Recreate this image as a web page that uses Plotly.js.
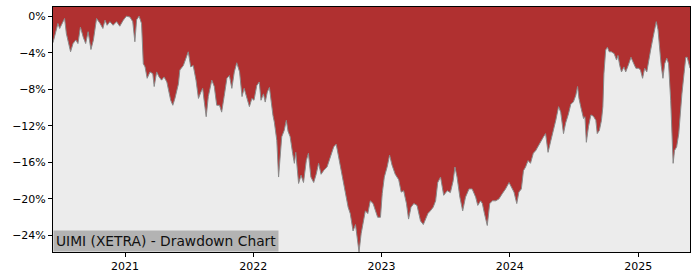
<!DOCTYPE html>
<html>
<head>
<meta charset="utf-8">
<script src="https://cdn.plot.ly/plotly-3.0.1.min.js"></script>
<style>
  html, body { margin: 0; padding: 0; background: #ffffff; }
  #chart { width: 700px; height: 280px; }
</style>
</head>
<body>
<div id="chart"></div>
<script>
// Drawdown readings (date, percent below previous peak)
const dates = [
  "2020-06-10","2020-06-18","2020-06-24","2020-06-29","2020-07-09","2020-07-13","2020-07-18","2020-07-23","2020-07-30","2020-08-06",
  "2020-08-14","2020-08-20","2020-08-27","2020-09-04","2020-09-11","2020-09-18","2020-09-26","2020-10-03","2020-10-12","2020-10-22",
  "2020-10-30","2020-11-05","2020-11-11","2020-11-19","2020-11-28","2020-12-08","2020-12-17","2020-12-27","2021-01-05","2021-01-15",
  "2021-01-23","2021-01-29","2021-02-03","2021-02-10","2021-02-17","2021-02-22","2021-02-27","2021-03-05","2021-03-13","2021-03-21",
  "2021-03-25","2021-04-01","2021-04-08","2021-04-15","2021-04-22","2021-04-30","2021-05-04","2021-05-11","2021-05-17","2021-05-23",
  "2021-06-02","2021-06-06","2021-06-16","2021-06-24","2021-06-30","2021-07-07","2021-07-14","2021-07-22","2021-07-29","2021-08-05",
  "2021-08-10","2021-08-14","2021-08-20","2021-08-26","2021-09-05","2021-09-12","2021-09-19","2021-09-27","2021-10-03","2021-10-10",
  "2021-10-18","2021-10-25","2021-11-01","2021-11-08","2021-11-15","2021-11-23","2021-11-30","2021-12-06","2021-12-14","2021-12-21",
  "2021-12-28","2022-01-03","2022-01-11","2022-01-18","2022-01-23","2022-01-30","2022-02-04","2022-02-10","2022-02-16","2022-02-21",
  "2022-02-26","2022-03-02","2022-03-09","2022-03-14","2022-03-19","2022-03-23","2022-03-30","2022-04-05","2022-04-10","2022-04-16",
  "2022-04-23","2022-04-28","2022-05-02","2022-05-10","2022-05-17","2022-05-24","2022-06-01","2022-06-07","2022-06-14","2022-06-22",
  "2022-06-29","2022-07-06","2022-07-13","2022-07-20","2022-07-30","2022-08-08","2022-08-18","2022-08-25","2022-09-01","2022-09-11",
  "2022-09-20","2022-09-28","2022-10-04","2022-10-12","2022-10-19","2022-10-23","2022-10-29","2022-11-04","2022-11-09","2022-11-16",
  "2022-11-23","2022-11-30","2022-12-08","2022-12-15","2022-12-21","2022-12-29","2023-01-03","2023-01-09","2023-01-17","2023-01-24",
  "2023-01-31","2023-02-09","2023-02-19","2023-02-26","2023-03-05","2023-03-13","2023-03-19","2023-03-26","2023-04-03","2023-04-12",
  "2023-04-22","2023-04-30","2023-05-06","2023-05-13","2023-05-20","2023-05-28","2023-06-04","2023-06-10","2023-06-18","2023-06-27",
  "2023-07-07","2023-07-16","2023-07-24","2023-07-29","2023-08-04","2023-08-12","2023-08-20","2023-08-28","2023-09-07","2023-09-16",
  "2023-09-26","2023-10-02","2023-10-10","2023-10-15","2023-10-21","2023-10-29","2023-11-05","2023-11-13","2023-11-22","2023-12-01",
  "2023-12-11","2023-12-20","2023-12-30","2024-01-05","2024-01-13","2024-01-21","2024-01-27","2024-02-03","2024-02-09","2024-02-15",
  "2024-02-22","2024-02-29","2024-03-08","2024-03-15","2024-03-21","2024-03-29","2024-04-06","2024-04-12","2024-04-19","2024-04-27",
  "2024-05-04","2024-05-11","2024-05-19","2024-05-25","2024-06-02","2024-06-08","2024-06-16","2024-06-23","2024-06-30","2024-07-07",
  "2024-07-12","2024-07-16","2024-07-21","2024-07-29","2024-08-02","2024-08-06","2024-08-12","2024-08-19","2024-08-26","2024-09-02",
  "2024-09-06","2024-09-12","2024-09-18","2024-09-22","2024-09-25","2024-09-30","2024-10-05","2024-10-10","2024-10-16","2024-10-24",
  "2024-10-31","2024-11-04","2024-11-09","2024-11-14","2024-11-21","2024-11-26","2024-12-03","2024-12-11","2024-12-19","2024-12-25",
  "2025-01-02","2025-01-07","2025-01-13","2025-01-19","2025-01-25","2025-01-30","2025-02-05","2025-02-12","2025-02-16","2025-02-21",
  "2025-02-26","2025-03-02","2025-03-07","2025-03-12","2025-03-17","2025-03-23","2025-03-28","2025-04-03","2025-04-07","2025-04-10",
  "2025-04-14","2025-04-20","2025-04-26","2025-05-01","2025-05-05","2025-05-11","2025-05-16","2025-05-20","2025-05-24","2025-05-28"
];
const drawdown = [
  -2.9,-1.5,-0.8,-1.35,-0.44,-0.25,-1.9,-2.8,-3.9,-3.0,
  -2.6,-3.0,-1.2,-2.3,-3.0,-1.7,-3.65,-2.6,-0.25,-0.8,
  -1.35,-0.44,-1.0,-0.6,-1.0,-0.6,-1.1,-0.44,0.0,-0.1,
  -0.6,-2.8,-0.4,0.0,-0.8,-5.2,-5.55,-6.8,-6.1,-6.3,
  -7.7,-6.1,-6.65,-7.0,-6.65,-7.2,-8.1,-9.2,-9.75,-9.0,
  -7.4,-5.9,-5.4,-4.5,-3.9,-5.55,-5.4,-7.0,-9.0,-8.3,
  -7.9,-9.2,-11.0,-8.8,-7.0,-7.7,-9.75,-9.75,-10.5,-8.8,
  -6.8,-6.5,-7.9,-6.1,-5.1,-6.1,-8.8,-7.9,-9.0,-9.9,
  -9.0,-9.2,-7.6,-7.2,-9.2,-8.5,-9.4,-8.3,-7.8,-9.6,
  -10.85,-11.6,-13.6,-17.6,-14.7,-13.2,-12.5,-11.4,-12.6,-13.2,
  -15.0,-16.1,-14.9,-18.3,-17.4,-18.2,-15.8,-15.0,-17.6,-18.2,
  -17.3,-16.1,-17.3,-16.9,-16.5,-15.4,-14.3,-14.0,-15.4,-17.3,
  -19.4,-20.9,-21.6,-23.5,-22.8,-24.2,-25.8,-23.8,-22.8,-21.3,
  -21.6,-20.2,-20.5,-21.3,-22.0,-22.0,-19.4,-17.6,-16.5,-15.2,
  -16.3,-17.3,-17.9,-19.25,-19.1,-20.5,-22.2,-20.9,-20.5,-20.7,
  -22.4,-22.8,-22.2,-21.6,-21.3,-20.9,-20.2,-18.2,-17.6,-19.6,
  -19.1,-19.3,-18.0,-16.5,-17.6,-19.8,-21.3,-19.8,-18.9,-18.9,
  -19.8,-20.7,-20.2,-20.5,-21.6,-22.9,-20.5,-20.2,-20.2,-20.0,
  -19.4,-18.9,-18.2,-18.6,-19.25,-20.5,-19.25,-18.9,-16.9,-16.5,
  -15.8,-16.1,-15.0,-14.7,-14.3,-13.6,-13.2,-12.85,-14.9,-13.6,
  -12.6,-11.4,-9.9,-10.5,-12.85,-11.7,-10.7,-9.6,-9.4,-8.65,
  -7.7,-9.0,-9.9,-11.2,-11.0,-13.8,-12.1,-10.8,-10.95,-11.4,
  -12.85,-12.5,-11.4,-9.9,-6.3,-3.7,-3.4,-3.9,-3.9,-4.1,
  -4.8,-4.3,-5.4,-6.1,-5.55,-6.1,-5.4,-4.5,-5.2,-5.7,
  -5.7,-5.9,-6.8,-5.7,-6.1,-4.8,-3.7,-2.3,-1.5,-0.6,
  -1.5,-3.4,-5.4,-6.8,-5.2,-4.6,-5.2,-9.2,-13.6,-16.1,
  -14.7,-14.3,-12.85,-10.3,-8.5,-6.3,-4.5,-4.5,-5.0,-5.7
];
const yTickVals = [0, -4, -8, -12, -16, -20, -24];
const yTickText = ["0%", "\u22124%", "\u22128%", "\u221212%", "\u221216%", "\u221220%", "\u221224%"];
const xTickVals = ["2021-01-01", "2022-01-01", "2023-01-01", "2024-01-01", "2025-01-01"];
const xTickText = ["2021", "2022", "2023", "2024", "2025"];
const chartLabel = "UIMI (XETRA) - Drawdown Chart";

const yRange = [-25.8, 1.0];
const redFill = "#b03030";

// invisible ceiling at the top of the frame; the drawdown area is filled up to it
const ceiling = {
  x: dates,
  y: dates.map(() => yRange[1]),
  type: "scatter",
  mode: "lines",
  line: { width: 0, color: redFill },
  hoverinfo: "skip"
};

const trace = {
  x: dates,
  y: drawdown,
  type: "scatter",
  mode: "lines",
  fill: "tonexty",
  fillcolor: redFill,
  line: { color: "#8a8a8a", width: 1 },
  hoverinfo: "skip"
};

const axisCommon = {
  ticks: "outside",
  ticklen: 4,
  tickcolor: "#000000",
  showgrid: false,
  zeroline: false,
  showline: true,
  linecolor: "#000000",
  linewidth: 1,
  mirror: true,
  tickfont: { family: "DejaVu Sans", size: 11, color: "#000000" }
};

const layout = {
  width: 700,
  height: 280,
  margin: { l: 53, r: 10, t: 7, b: 28 },
  paper_bgcolor: "#ffffff",
  plot_bgcolor: "#ececec",
  showlegend: false,
  font: { family: "DejaVu Sans", size: 11, color: "#000000" },
  xaxis: Object.assign({
    type: "date",
    range: [dates[0], dates[dates.length - 1]],
    tickvals: xTickVals,
    ticktext: xTickText
  }, axisCommon),
  yaxis: Object.assign({
    range: yRange,
    tickvals: yTickVals,
    ticktext: yTickText
  }, axisCommon),
  annotations: [{
    text: chartLabel,
    xref: "paper", yref: "paper",
    x: 0, y: 0,
    xanchor: "left", yanchor: "bottom",
    showarrow: false,
    bgcolor: "#b3b3b3",
    borderpad: 2,
    font: { family: "DejaVu Sans", size: 13.8, color: "#111111" }
  }]
};

Plotly.newPlot("chart", [ceiling, trace], layout, { staticPlot: true, displayModeBar: false });
</script>
</body>
</html>
